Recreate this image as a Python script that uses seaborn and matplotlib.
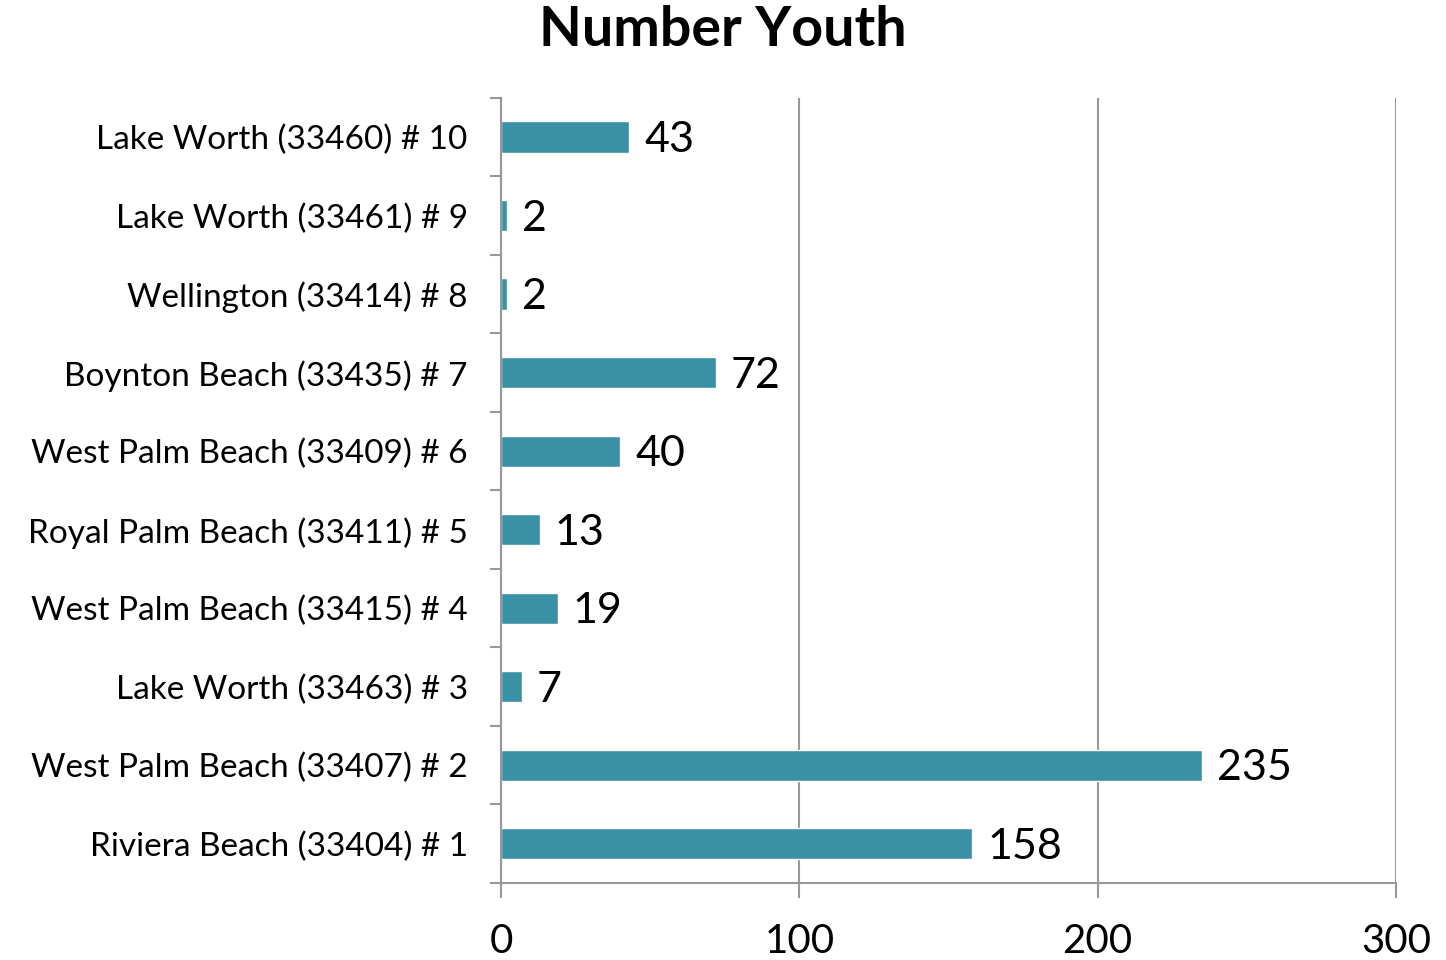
import pandas as pd
import matplotlib.pyplot as plt
import seaborn as sns
import numpy as np

# Data (top to bottom)
areas = [
    "Lake Worth (33460) # 10",
    "Lake Worth (33461) # 9",
    "Wellington (33414) # 8",
    "Boynton Beach (33435) # 7",
    "West Palm Beach (33409) # 6",
    "Royal Palm Beach (33411) # 5",
    "West Palm Beach (33415) # 4",
    "Lake Worth (33463) # 3",
    "West Palm Beach (33407) # 2",
    "Riviera Beach (33404) # 1",
]
youth = [43, 2, 2, 72, 40, 13, 19, 7, 235, 158]
x_ticks = [0, 100, 200, 300]

df = pd.DataFrame({"area": areas, "youth": youth})

sns.set_style("white")
plt.rcParams['font.family'] = ['Lato', 'DejaVu Sans']
plt.rcParams['text.color'] = 'black'
plt.rcParams['xtick.color'] = 'black'
plt.rcParams['ytick.color'] = 'black'

fig = plt.figure(figsize=(14.46, 9.6), dpi=100)
ax = fig.add_axes([0.3465, 0.0802, 0.6189, 0.8178])

sns.barplot(data=df, x="youth", y="area", orient="h", color="#3A91A6",
            saturation=1, width=0.4, ax=ax)

ax.set_xlim(0, 300)
ax.set_ylim(len(areas) - 0.5, -0.5)
ax.set_xticks(x_ticks)
ax.set_xticklabels([str(t) for t in x_ticks], fontsize=29)
ax.tick_params(axis="x", bottom=True, length=11, width=1.5, color="#999999",
               labelcolor="black", pad=18)
ax.set_yticks(range(len(areas)))
ax.set_yticklabels(areas, fontsize=24)
ax.tick_params(axis="y", which="major", left=True, length=0, pad=24,
               labelcolor="black")
ax.set_yticks(np.arange(-0.5, len(areas)), minor=True)
ax.tick_params(axis="y", which="minor", left=True, length=8, width=1.5,
               color="#999999")
ax.set_xlabel("")
ax.set_ylabel("")

ax.grid(axis="x", color="#999999", linewidth=1.5)
ax.set_axisbelow(True)
for s in ["top", "right"]:
    ax.spines[s].set_visible(False)
for s in ["left", "bottom"]:
    ax.spines[s].set_color("#999999")
    ax.spines[s].set_linewidth(1.5)

for i, v in enumerate(youth):
    ax.text(v + 5, i + 0.04, str(v), va="center", ha="left", fontsize=31,
            color="black")

fig.suptitle("Number Youth", fontsize=40, fontweight="bold", color="black",
             x=0.5, y=0.995)

plt.savefig("out.png", dpi=100)
